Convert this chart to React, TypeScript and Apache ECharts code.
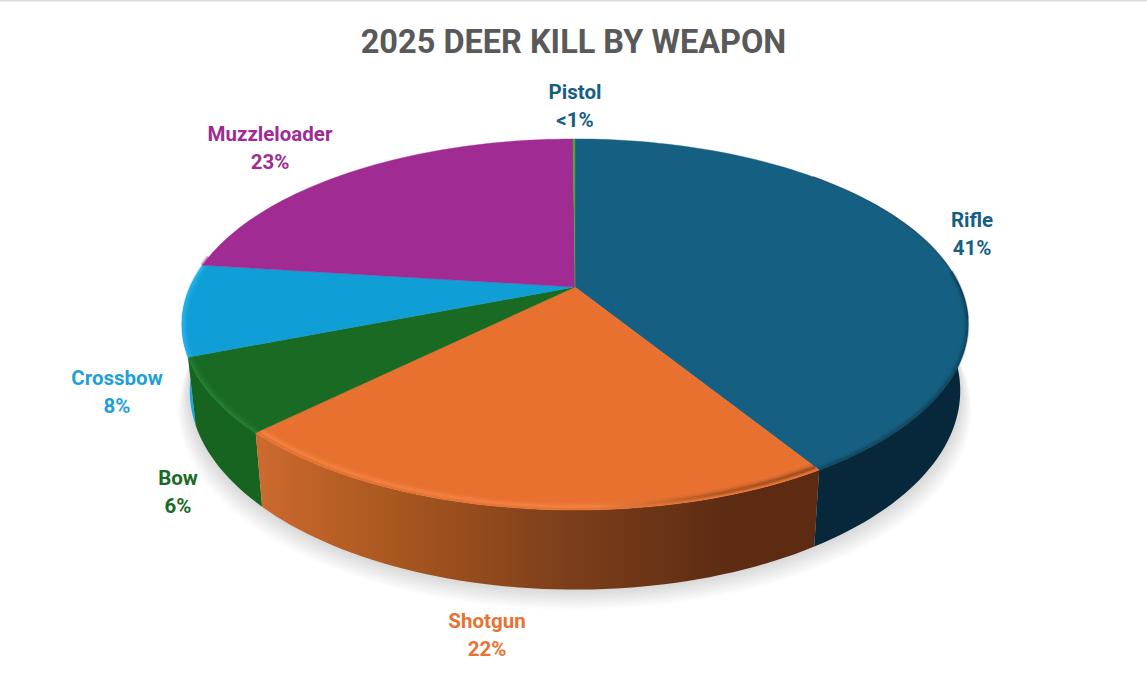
import React, { useEffect, useRef } from "react";
import * as echarts from "echarts";

const titleText = "2025 DEER KILL BY WEAPON";
const weapons = ["Rifle", "Shotgun", "Bow", "Crossbow", "Muzzleloader", "Pistol"];
const shares = [41.2, 21.4, 6.45, 7.95, 22.9, 0.1];
const shareLabels = ["41%", "22%", "6%", "8%", "23%", "<1%"];

const topColors = ["#156082", "#E8712F", "#196B24", "#0F9ED5", "#A02B93", "#4EA72E"];
const labelColors = ["#156082", "#E97132", "#196B24", "#1F9FD8", "#A02B93", "#156082"];
const sideStops = [
  [[0, "#0a2a3c"], [1, "#07283a"]],
  [[0, "#cc6a2e"], [0.25, "#a8561f"], [0.55, "#7c3e1a"], [0.85, "#5c2b12"], [1, "#5c2b12"]],
  [[0, "#176420"], [1, "#15601e"]],
  [[0, "#16a8e8"], [1, "#0f86b8"]],
  [[0, "#7a206f"], [1, "#7a206f"]],
  [[0, "#3b8022"], [1, "#3b8022"]],
];
const bevelStops = [
  [[0, "#0a3346"], [1, "#0a3346"]],
  [[0, "#f98d50"], [0.6, "#f98d50"], [0.82, "#7c3e1a"], [1, "#5c2b12"]],
  [[0, "#2b8a35"], [1, "#2b8a35"]],
  [[0, "#35bdf5"], [1, "#35bdf5"]],
  [[0, "#A02B93"], [1, "#A02B93"]],
  [[0, "#4EA72E"], [1, "#4EA72E"]],
];
const bevelInset = [0.997, 0.986, 0.996, 0.996, 1, 1];
const labelAnchors = [
  [972, 234],
  [487, 635],
  [178, 492],
  [117, 392],
  [270, 148],
  [575, 106],
];

// Perspective disc model
const CX = 575, AY = 287, RX = 385, RY = 178, K = 0.202, DEPTH = 63.5, TAPER = 0.98;
const total = shares.reduce((a, b) => a + b, 0);
const DEG = Math.PI / 180;
const angleAt = (i: number) =>
  (shares.slice(0, i).reduce((a, b) => a + b, 0) / total) * 360;

function top(theta: number, r = 1): [number, number] {
  const X = Math.sin(theta * DEG) * r;
  const Y = -Math.cos(theta * DEG) * r;
  const w = 1 - K * Y;
  return [CX + (RX * X) / w, AY + (RY * Y) / w];
}
function bottom(theta: number, grow = 1, dy = 0): [number, number] {
  const Y = -Math.cos(theta * DEG);
  const w = 1 - K * Y;
  const [x, y] = top(theta);
  return [CX + (x - CX) * TAPER * grow, y + DEPTH / w + dy];
}
function arcAngles(a: number, b: number) {
  const out: number[] = [];
  const n = Math.max(2, Math.ceil((b - a) / 1.5));
  for (let j = 0; j <= n; j++) out.push(a + ((b - a) * j) / n);
  return out;
}
const clampRange = (a: number, b: number, lo: number, hi: number) => {
  const s = Math.max(a, lo), e = Math.min(b, hi);
  return e > s ? [s, e] : null;
};
const gradient = (x0: number, x1: number, stops: any[]) =>
  new echarts.graphic.LinearGradient(
    x0, 0, x1, 0,
    stops.map(([offset, color]) => ({ offset, color })),
    true
  );

function renderShadow() {
  const rings: any[] = [];
  const angles = arcAngles(0, 360);
  for (let s = 0; s < 14; s++) {
    const grow = 1.03 - s * 0.0024;
    const dy = 20 - s * 1.6;
    rings.push({
      type: "polygon",
      silent: true,
      shape: { points: angles.map((t) => bottom(t, grow, dy)) },
      style: { fill: "#000000", opacity: 0.013 },
    });
  }
  return { type: "group", children: rings };
}

function renderSide(params: any) {
  const i = weapons.length - 1 - params.dataIndex;
  const range = clampRange(angleAt(i), angleAt(i + 1), 88, 272);
  if (!range) return { type: "group", children: [] };
  const angles = arcAngles(range[0], range[1]);
  const pts = angles.map((t) => top(t)).concat(angles.slice().reverse().map((t) => bottom(t)));
  const x0 = i === 1 ? 258 : 180;
  const x1 = i === 1 ? 820 : 970;
  return {
    type: "polygon",
    silent: true,
    shape: { points: pts },
    style: { fill: gradient(x0, x1, sideStops[i]) },
  };
}

function renderTop(params: any) {
  const i = params.dataIndex;
  const a = angleAt(i), b = angleAt(i + 1);
  const rim = arcAngles(a, b).map((t) => top(t));
  const children: any[] = [
    {
      type: "polygon",
      silent: true,
      shape: { points: [[CX, AY], ...rim] },
      style: { fill: topColors[i], stroke: topColors[i], lineWidth: 0.4 },
    },
  ];
  const x0 = i === 1 ? 258 : 180;
  const x1 = i === 1 ? 820 : 970;
  const range = clampRange(a, b, 85, 280);
  if (range) {
    const inset = bevelInset[i];
    const layers: [number, number, number][] = [
      [inset - 0.002, 7, 0.1],
      [inset, 4.5, 0.2],
      [inset + 0.001, 2.5, 0.3],
    ];
    layers.forEach(([r, width, op]) => {
      children.push({
        type: "polyline",
        silent: true,
        shape: { points: arcAngles(range[0], range[1]).map((t) => top(t, r)) },
        style: {
          fill: "none",
          stroke: gradient(x0, x1, bevelStops[i]),
          lineWidth: width,
          opacity: op,
        },
      });
    });
  }
  const edge = clampRange(a, b, 45, 100);
  if (edge) {
    children.push({
      type: "polyline",
      silent: true,
      shape: { points: arcAngles(edge[0], edge[1]).map((t) => top(t)) },
      style: { fill: "none", stroke: "#0a3346", lineWidth: 1.2, opacity: 0.55 },
    });
  }
  return { type: "group", children };
}

function renderLabel(params: any) {
  const i = params.dataIndex;
  return {
    type: "text",
    silent: true,
    x: labelAnchors[i][0],
    y: labelAnchors[i][1],
    style: {
      text: `${weapons[i]}\n${shareLabels[i]}`,
      fill: labelColors[i],
      font: '700 20.5px "Roboto"',
      lineHeight: 28,
      align: "center",
      verticalAlign: "middle",
    },
  };
}

export default function App() {
  const ref = useRef<HTMLDivElement>(null);
  useEffect(() => {
    const chart = echarts.init(ref.current!, undefined, { renderer: "svg" });
    const base = { type: "custom", coordinateSystem: "none", animation: false, silent: true };
    chart.setOption({
      animation: false,
      backgroundColor: "#ffffff",
      title: {
        text: titleText,
        left: "center",
        top: 20,
        textStyle: { color: "#595959", fontFamily: "Roboto", fontWeight: 700, fontSize: 32.5 },
      },
      graphic: [
        { type: "rect", shape: { x: 0, y: 0, width: 1147, height: 1.5 }, style: { fill: "#dcdcdc" }, silent: true },
      ],
      series: [
        { ...base, z: 1, data: [0], renderItem: renderShadow },
        { ...base, z: 2, data: shares.slice().reverse(), renderItem: renderSide },
        { ...base, z: 3, data: shares, renderItem: renderTop },
        { ...base, z: 4, data: shares, renderItem: renderLabel },
      ],
    });
    return () => chart.dispose();
  }, []);
  return <div ref={ref} style={{ position: "fixed", left: 0, top: 0, width: 1147, height: 677 }} />;
}
